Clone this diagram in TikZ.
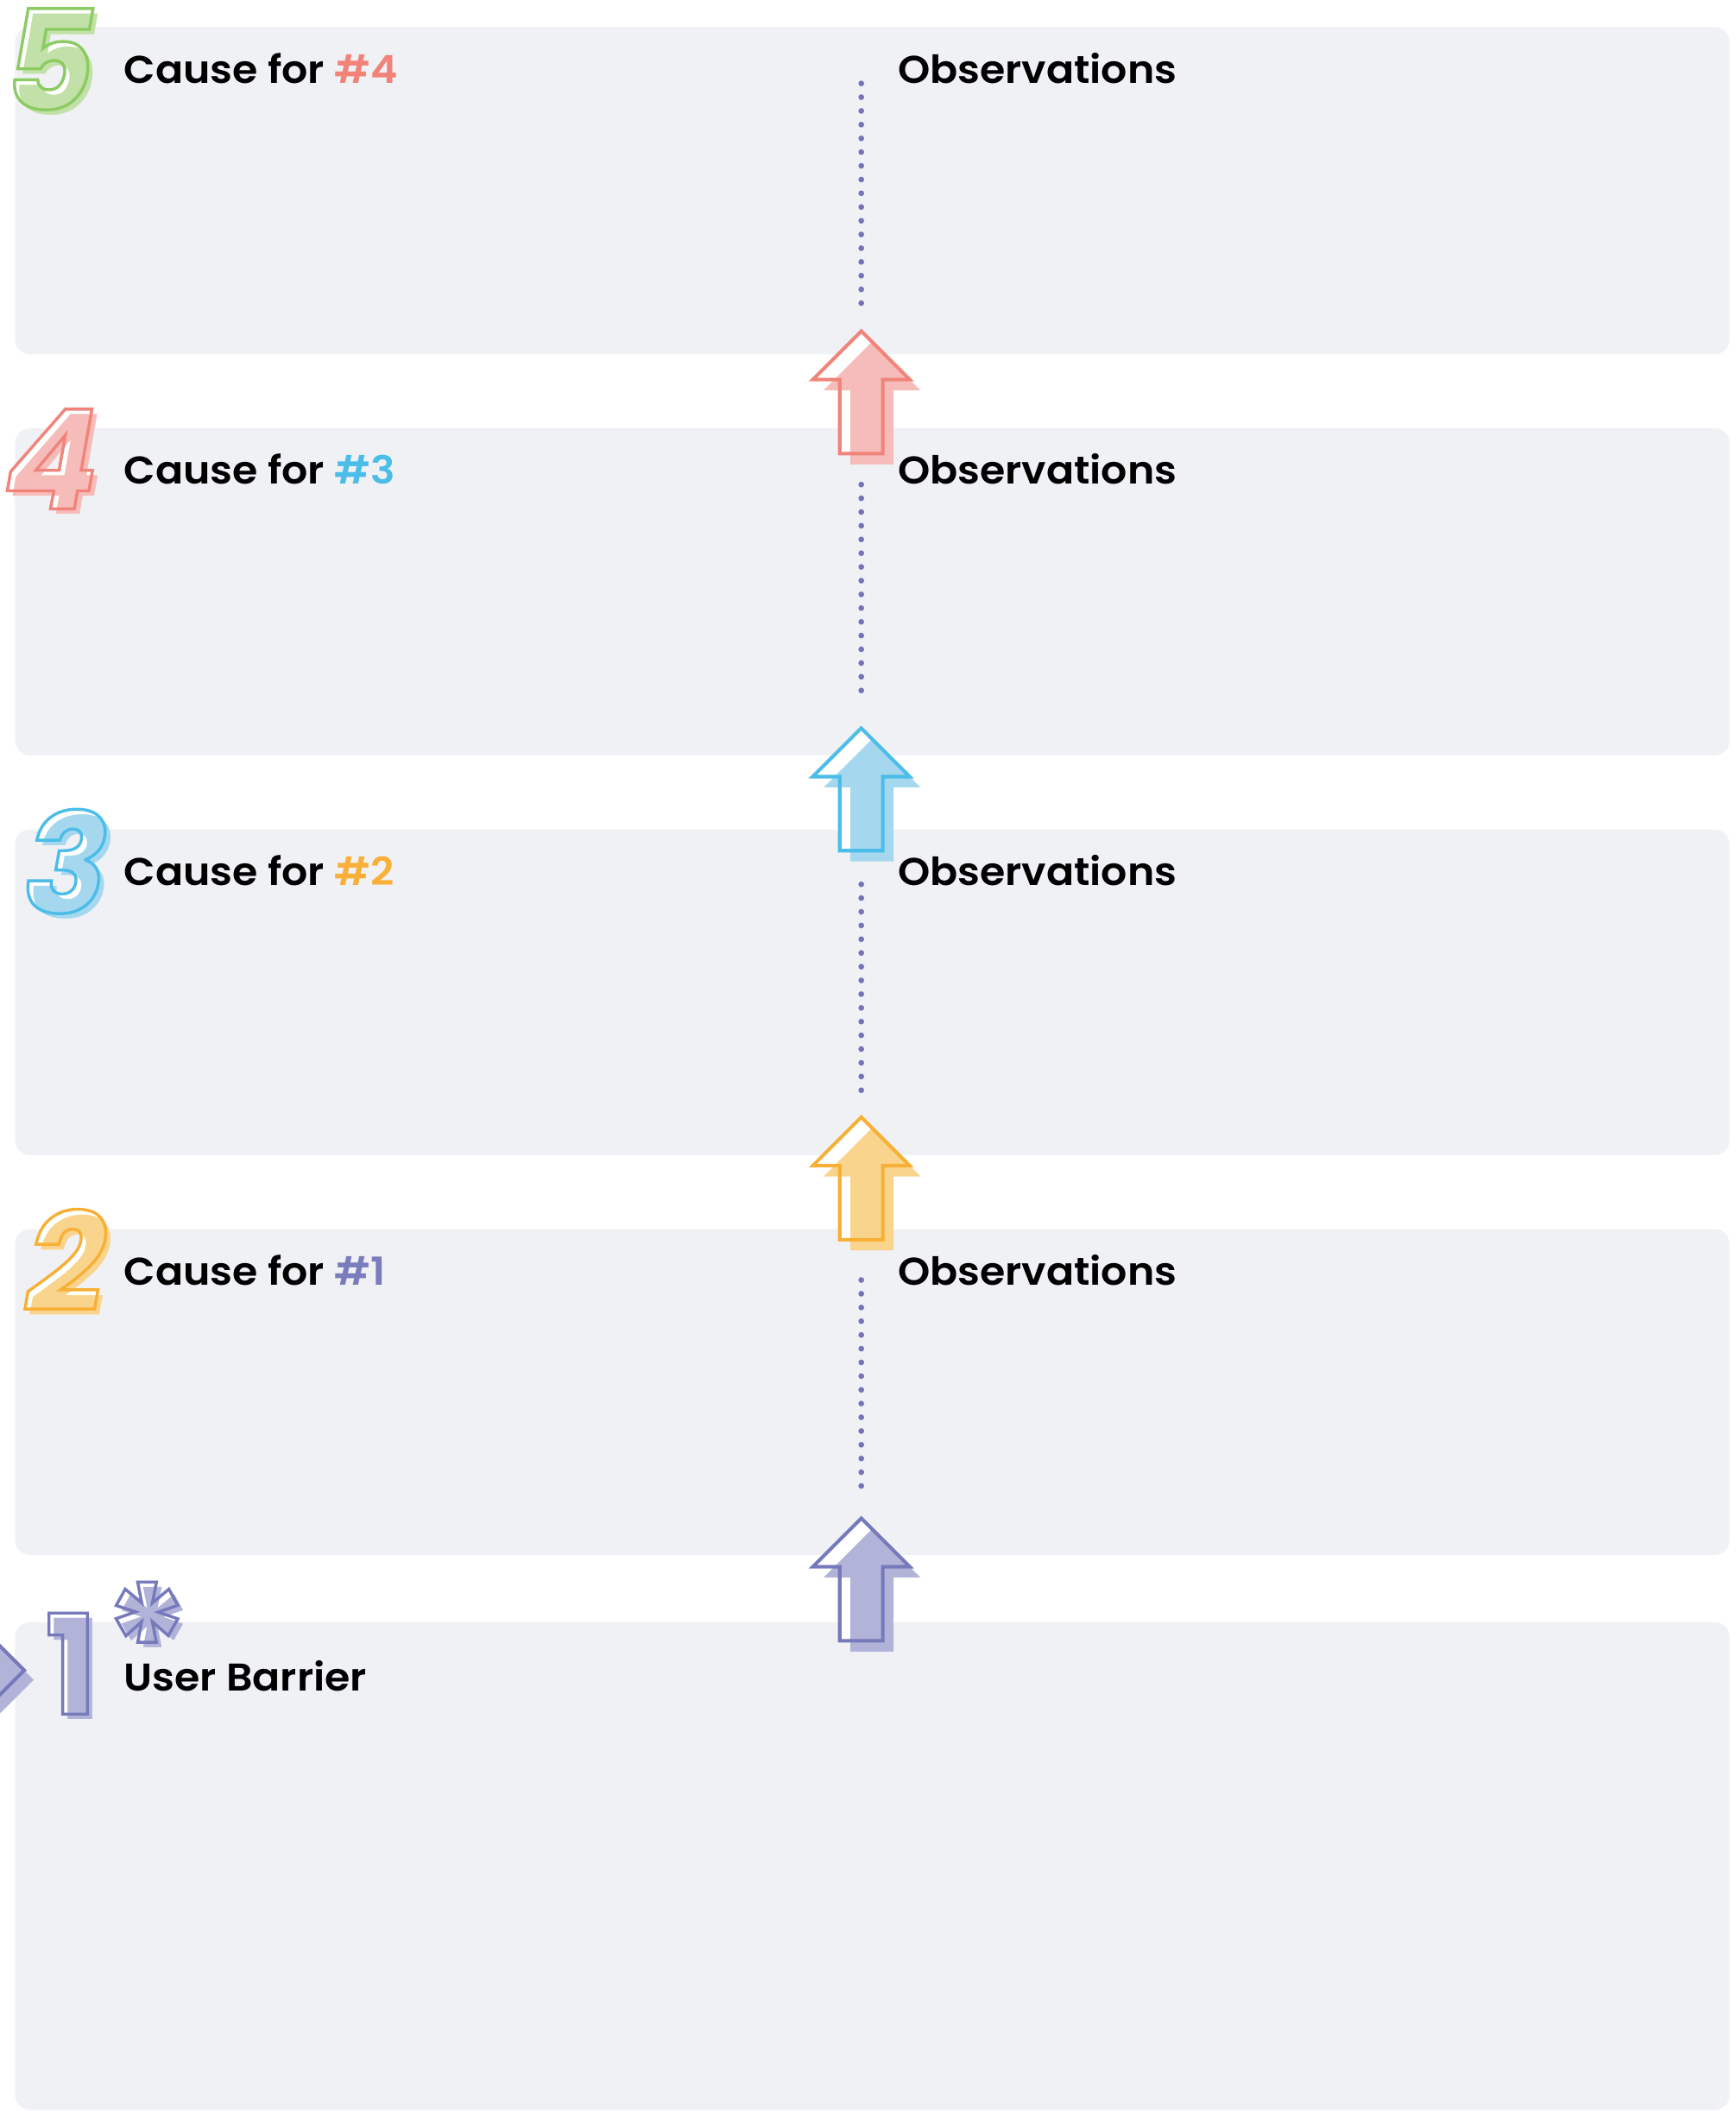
\documentclass[tikz,border=0pt]{standalone}
\usepackage{fontspec}
\setmainfont{Poppins}[UprightFont=* SemiBold, BoldFont=* Bold, ItalicFont=* Italic, BoldItalicFont=* Bold Italic, FakeStretch=1.06]
\newfontfamily\numfont{Poppins}[UprightFont=* Bold, ItalicFont=* Bold Italic]
\usetikzlibrary{calc}
\definecolor{cardbg}{HTML}{F0F1F5}
\definecolor{dotc}{HTML}{7375B8}
\definecolor{redS}{HTML}{F0847A}\definecolor{redF}{HTML}{F6BCB9}
\definecolor{bluS}{HTML}{4BBDE8}\definecolor{bluF}{HTML}{A5D8EF}
\definecolor{oraS}{HTML}{F7B035}\definecolor{oraF}{HTML}{F9D48D}
\definecolor{purS}{HTML}{7679BA}\definecolor{purF}{HTML}{B1B3D9}
\definecolor{grnS}{HTML}{8CCB62}\definecolor{grnF}{HTML}{C2E1A8}
\definecolor{hRed}{HTML}{F28379}
\definecolor{hBlu}{HTML}{4BBDE9}
\definecolor{hOra}{HTML}{F8B03A}
\definecolor{hPur}{HTML}{7A7CBC}
\newcommand\olglyph[1]{\special{pdf:literal direct 2.2 w 0 j 1 Tr}#1\special{pdf:literal direct 0 Tr}}
\newcommand\arrowpath{-- ++(36,36) -- ++(-20,0) -- ++(0,55) -- ++(-32,0) -- ++(0,-55) -- ++(-20,0) -- cycle}
\newcommand\uparr[4]{%
  \coordinate (#1) at (640,#2);
  \fill[white] (#1) \arrowpath;
  \fill[#4] ($(#1)+(8,8)$) \arrowpath;
  \draw[#3, line width=2.6pt, line join=miter] (#1) \arrowpath;
}
\newcommand\bigdigit[6]{%
  \node[digit, text=white] (#1) at (#2,#3) {#6};
  \node[digit, text=#5, xshift=4pt, yshift=-4pt] (#1s) at (#2,#3) {#6};
  \node[digit, text=#4] (#1o) at (#2,#3) {\olglyph{#6}};
}
\begin{document}
\begin{tikzpicture}[x=1pt,y=-1pt,
  card/.style={fill=cardbg, rounded corners=11pt, inner sep=0pt, anchor=north west, minimum width=1274pt},
  lbl/.style={anchor=base west, inner sep=0pt, font=\fontsize{28.7}{34}\selectfont, text=black},
  dotline/.style={draw=dotc, line width=4.3pt, line cap=round, dash pattern=on 0pt off 10.2pt},
  digit/.style={inner sep=0pt, font=\numfont\fontsize{103}{103}\selectfont}]
\useasboundingbox (0,0) rectangle (1290,1568.4);
% cards
\node[card, minimum height=243pt] (b5) at (11,20) {};
\node[card, minimum height=243pt] (b4) at (11,318) {};
\node[card, minimum height=242pt] (b3) at (11,616) {};
\node[card, minimum height=242pt] (b2) at (11,913) {};
\node[card, minimum height=362.4pt] (b1) at (11,1205) {};
% dotted lines
\coordinate (d5a) at (640,62);  \coordinate (d5b) at (640,228);
\coordinate (d4a) at (640,360); \coordinate (d4b) at (640,517);
\coordinate (d3a) at (640,657); \coordinate (d3b) at (640,815);
\coordinate (d2a) at (640,951); \coordinate (d2b) at (640,1108);
\draw[dotline] (d5a) -- (d5b);
\draw[dotline] (d4a) -- (d4b);
\draw[dotline] (d3a) -- (d3b);
\draw[dotline] (d2a) -- (d2b);
% arrows
\uparr{a4}{246}{redS}{redF}
\uparr{a3}{541}{bluS}{bluF}
\uparr{a2}{830}{oraS}{oraF}
\uparr{a1}{1128}{purS}{purF}
% labels
\node[lbl] (t5) at (92,61.6) {Cause for \textcolor{hRed}{\#4}};
\node[lbl] (o5) at (667,61.6) {Observations};
\node[lbl] (t4) at (92,359.6) {Cause for \textcolor{hBlu}{\#3}};
\node[lbl] (o4) at (667,359.6) {Observations};
\node[lbl] (t3) at (92,657.6) {Cause for \textcolor{hOra}{\#2}};
\node[lbl] (o3) at (667,657.6) {Observations};
\node[lbl] (t2) at (92,954.6) {Cause for \textcolor{hPur}{\#1}};
\node[lbl] (o2) at (667,954.6) {Observations};
\node[lbl] (t1) at (92,1256.6) {User Barrier};
% chevron
\fill[purF] (25,1248) -- (-32,1191) -- (-32,1216) -- (0,1248) -- (-32,1280) -- (-32,1305) -- cycle;
\draw[purS, line width=2.6pt, line join=miter] (18,1241) -- (-39,1184) -- (-39,1209) -- (-7,1241) -- (-39,1273) -- (-39,1298) -- cycle;
% big numerals
\bigdigit{n5}{37}{44}{grnS}{grnF}{\itshape 5}
\bigdigit{n4}{38}{341}{redS}{redF}{\itshape 4}
\bigdigit{n3}{49}{640}{bluS}{bluF}{\itshape 3}
\bigdigit{n2}{49}{936}{oraS}{oraF}{\itshape 2}
\bigdigit{n1}{53}{1236}{purS}{purF}{1}
\bigdigit{ast}{109}{1219}{purS}{purF}{\fontsize{118}{118}\selectfont *}
\end{tikzpicture}
\end{document}
